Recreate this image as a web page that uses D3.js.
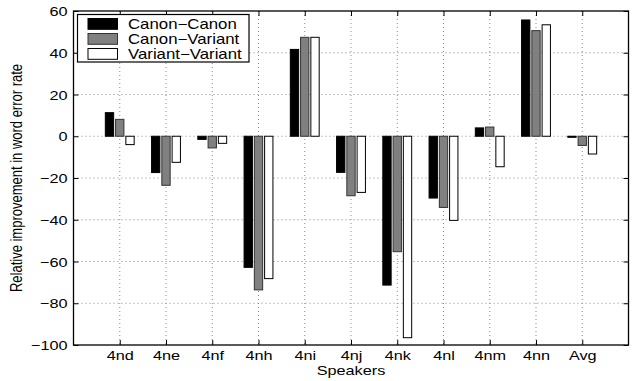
<!DOCTYPE html>
<html>
<head>
<meta charset="utf-8">
<script src="https://cdn.jsdelivr.net/npm/d3@7"></script>
<style>
  html, body { margin: 0; padding: 0; background: #fff; }
  svg { display: block; }
  text { font-family: "Liberation Sans", Arial, Helvetica, sans-serif; fill: #000; }
</style>
</head>
<body>
<svg id="chart" width="632" height="381"></svg>
<script>
const categories = ["4nd","4ne","4nf","4nh","4ni","4nj","4nk","4nl","4nm","4nn","Avg"];
const seriesNames = ["Canon\u2212Canon","Canon\u2212Variant","Variant\u2212Variant"];
const canonCanon     = [11.3, -17.4, -1.5, -62.8, 41.6, -17.3, -71.3, -29.6,   4.0, 55.7, -0.5];
const canonVariant   = [ 8.1, -23.5, -5.6, -73.6, 47.4, -28.5, -55.3, -34.1,   4.4, 50.6, -4.4];
const variantVariant = [-4.0, -12.5, -3.4, -68.2, 47.4, -26.9, -96.5, -40.3, -14.6, 53.4, -8.5];
const yTicks = [-100, -80, -60, -40, -20, 0, 20, 40, 60];
const xLabel = "Speakers";
const yLabel = "Relative improvement in word error rate";

(function () {
const series = [canonCanon, canonVariant, variantVariant];
const fills = ["#000000", "#808080", "#ffffff"];
const strokes = ["#000000", "#333333", "#000000"];
const SX = 1.25; // horizontal stretch of glyphs as in the reference

const svg = d3.select("#chart");
const pL = 73.5, pR = 628.5, pT = 11, pB = 345;

const x = d3.scaleLinear().domain([0, categories.length + 1]).range([pL, pR]);
const y = d3.scaleLinear().domain([-100, 60]).range([pB, pT]);

// grid
const grid = svg.append("g");
yTicks.forEach(t => {
  if (t === -100 || t === 60) return;
  grid.append("line").attr("x1", pL).attr("x2", pR)
    .attr("y1", y(t)).attr("y2", y(t))
    .attr("stroke", "#8a8a8a").attr("stroke-width", 1).attr("stroke-dasharray", "1,3");
});
categories.forEach((c, i) => {
  grid.append("line").attr("x1", x(i + 1)).attr("x2", x(i + 1))
    .attr("y1", pT).attr("y2", pB)
    .attr("stroke", "#8a8a8a").attr("stroke-width", 1).attr("stroke-dasharray", "1,3");
});

// bars
const offsets = [-0.222, 0, 0.222];
const bw = 0.18;
series.forEach((vals, s) => {
  svg.append("g").selectAll("rect").data(vals).join("rect")
    .attr("x", (d, i) => x(i + 1 + offsets[s] - bw / 2))
    .attr("width", x(bw) - x(0))
    .attr("y", d => y(Math.max(0, d)))
    .attr("height", d => Math.abs(y(d) - y(0)))
    .attr("fill", fills[s])
    .attr("stroke", strokes[s])
    .attr("stroke-width", 1);
});

// axes box
svg.append("rect").attr("x", pL).attr("y", pT)
  .attr("width", pR - pL).attr("height", pB - pT)
  .attr("fill", "none").attr("stroke", "#000").attr("stroke-width", 1.3);

// y axis via d3 (ticks inward)
const yAxis = d3.axisLeft(y).tickValues(yTicks).tickSize(-5)
  .tickFormat(d => d < 0 ? "\u2212" + Math.abs(d) : String(d));
const gy = svg.append("g").attr("transform", `translate(${pL},0)`).call(yAxis);
gy.select(".domain").remove();
gy.selectAll("line").attr("stroke", "#000");
gy.selectAll("text").attr("font-size", 13)
  .attr("font-family", "Liberation Sans, Arial, sans-serif")
  .attr("x", 0).attr("dy", "0.36em")
  .attr("text-anchor", "end")
  .attr("transform", `translate(-6,0) scale(${SX},1)`);

// right ticks
const gyr = svg.append("g").attr("transform", `translate(${pR},0)`)
  .call(d3.axisRight(y).tickValues(yTicks).tickSize(-5).tickFormat(""));
gyr.select(".domain").remove();
gyr.selectAll("line").attr("stroke", "#000");

// x axis via d3
const xAxis = d3.axisBottom(x).tickValues(categories.map((c, i) => i + 1))
  .tickSize(-5).tickFormat((d) => categories[d - 1]);
const gx = svg.append("g").attr("transform", `translate(0,${pB})`).call(xAxis);
gx.select(".domain").remove();
gx.selectAll("line").attr("stroke", "#000");
gx.selectAll("text").attr("font-size", 13)
  .attr("font-family", "Liberation Sans, Arial, sans-serif")
  .attr("y", 0).attr("dy", null)
  .attr("transform", `translate(0,15) scale(${SX},1)`);

// top ticks
const gxt = svg.append("g").attr("transform", `translate(0,${pT})`)
  .call(d3.axisTop(x).tickValues(categories.map((c, i) => i + 1)).tickSize(-5).tickFormat(""));
gxt.select(".domain").remove();
gxt.selectAll("line").attr("stroke", "#000");

// axis labels
svg.append("text").attr("font-size", 13).attr("text-anchor", "middle")
  .attr("transform", `translate(351,375) scale(${SX},1)`)
  .text(xLabel);
svg.append("text").attr("font-size", 13).attr("text-anchor", "middle")
  .attr("transform", `translate(21.5,178) scale(${SX},1) rotate(-90)`)
  .text(yLabel);

// legend
const lg = svg.append("g");
lg.append("rect").attr("x", 77.5).attr("y", 14.5).attr("width", 171.5).attr("height", 47.5)
  .attr("fill", "#fff").attr("stroke", "#000").attr("stroke-width", 1.2);
seriesNames.forEach((name, i) => {
  const yy = 18.5 + i * 15;
  lg.append("rect").attr("x", 88).attr("y", yy).attr("width", 29.5).attr("height", 10.8)
    .attr("fill", fills[i]).attr("stroke", strokes[i]).attr("stroke-width", 1);
  lg.append("text").attr("font-size", 14)
    .attr("transform", `translate(128,${29.2 + i * 15}) scale(1.2,1)`)
    .text(name);
});
})();
</script>
</body>
</html>
